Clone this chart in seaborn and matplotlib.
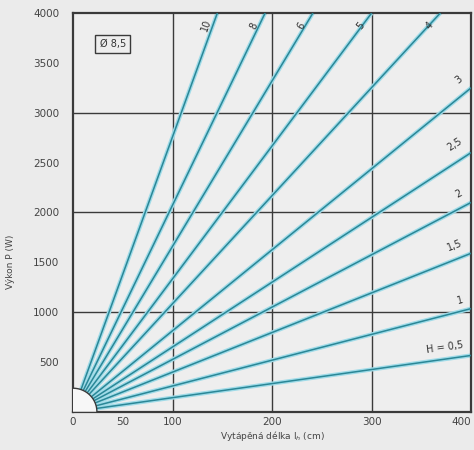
import numpy as np
import pandas as pd
import matplotlib
matplotlib.use("Agg")
import matplotlib.pyplot as plt
import seaborn as sns

# Curve labels (heater parameter H) and where each line leaves the plot
h_labels = ["10", "8", "6", "5", "4", "3", "2,5", "2", "1,5", "1", "H = 0,5"]
end_len = [145, 193, 241, 300, 369, 400, 400, 400, 400, 400, 400]      # cm
end_power = [4000, 4000, 4000, 4000, 4000, 3250, 2600, 2100, 1590, 1035, 565]  # W

x_ticks = [0, 50, 100, 200, 300, 400]
y_ticks = [500, 1000, 1500, 2000, 2500, 3000, 3500, 4000]
x_grid = [100, 200, 300]
y_grid = [1000, 2000, 3000]
corner_rx, corner_ry = 24, 236   # rounded dead zone near origin
diameter_label = "Ø 8,5"

sns.set_theme(style="white")
plt.rcParams['font.family'] = ['DejaVu Sans']

bg = "#ebebeb"
fig = plt.figure(figsize=(4.74, 4.5), dpi=100, facecolor=bg)
ax = fig.add_axes([0.154, 0.085, 0.840, 0.886], facecolor="#eeeeee")

# build line table: start on the corner ellipse, along ray towards end point
rows = []
for lab, ex, ep in zip(h_labels, end_len, end_power):
    k = ep / ex
    t = 1.0 / np.sqrt(1.0 / corner_rx**2 + (k / corner_ry)**2)
    rows.append({"H": lab, "x": t, "P": k * t})
    rows.append({"H": lab, "x": ex, "P": ep})
df = pd.DataFrame(rows)

for v in x_grid:
    ax.axvline(v, color="#3a3a3a", lw=1.0, zorder=1)
for v in y_grid:
    ax.axhline(v, color="#3a3a3a", lw=1.0, zorder=1)

# glow + core to mimic the printed cyan lines
sns.lineplot(data=df, x="x", y="P", units="H", estimator=None, sort=False,
             color="#9fdbe8", lw=3.0, ax=ax, zorder=2, legend=False)
sns.lineplot(data=df, x="x", y="P", units="H", estimator=None, sort=False,
             color="#2a8797", lw=1.1, ax=ax, zorder=3, legend=False)

# corner ellipse
th = np.linspace(0, np.pi / 2, 60)
ex_c = corner_rx * np.cos(th)
ep_c = corner_ry * np.sin(th)
ax.fill(np.r_[0, ex_c, 0], np.r_[0, ep_c, 0], color="#f7f7f7", zorder=4, lw=0)
ax.plot(ex_c, ep_c, color="#3a3a3a", lw=1.0, zorder=5)

# curve labels
for lab, ex, ep in zip(h_labels, end_len, end_power):
    ang = np.degrees(np.arctan((ep / ex) / 10.0))
    if ep >= 4000:
        off = (-8, -9)
        ha = "center"
    else:
        off = (-5, 6)
        ha = "right"
    ax.annotate(lab, (ex, ep), xytext=off, textcoords="offset points",
                ha=ha, va="center", rotation=ang, fontsize=7,
                color="#333333", zorder=6)

ax.text(40, 3690, diameter_label, ha="center", va="center", fontsize=7,
        color="#333333",
        bbox=dict(boxstyle="square,pad=0.45", fc="none", ec="#3a3a3a", lw=1.0))

ax.set_xlim(0, 400)
ax.set_ylim(0, 4000)
ax.set_xticks(x_ticks)
ax.set_yticks(y_ticks)
ax.tick_params(axis="both", length=0, labelsize=7.5, colors="#444444")
ax.tick_params(axis="y", pad=10)
ax.tick_params(axis="x", pad=4)
# last x tick label sits at the figure edge, keep it inside
ax.get_xticklabels()[-1].set_horizontalalignment("right")
for s in ax.spines.values():
    s.set_color("#3a3a3a")
    s.set_linewidth(1.6)

ax.set_xlabel("Vytápěná délka l$_h$ (cm)", fontsize=6.5, color="#444444", labelpad=1)
ax.set_ylabel("Výkon P (W)", fontsize=6.5, color="#444444")
ax.yaxis.set_label_coords(-0.146, 0.375)

fig.savefig("out.png", dpi=100, facecolor=bg)
